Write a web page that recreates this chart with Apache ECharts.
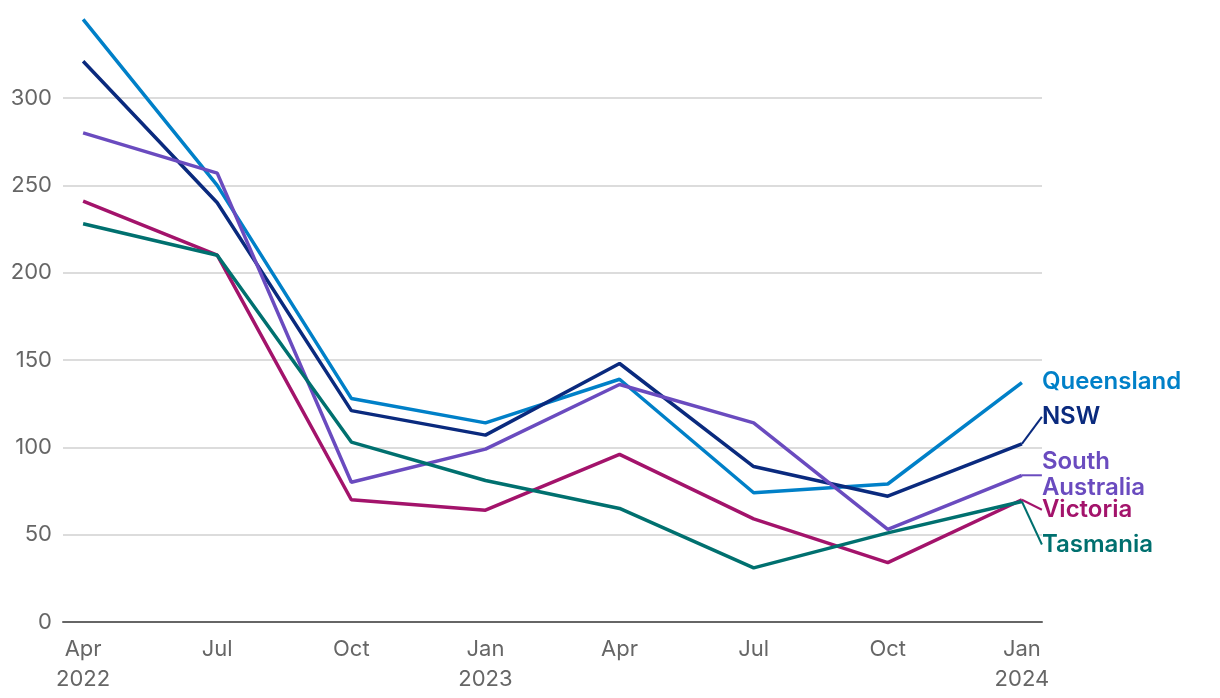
<!DOCTYPE html>
<html><head><meta charset="utf-8">
<script src="https://cdn.jsdelivr.net/npm/echarts@6/dist/echarts.min.js"></script>
<style>html,body{margin:0;padding:0;background:#fff}#c{width:1220px;height:698px}</style>
</head><body><div id="c"></div>
<script>
var categories = ['Apr\n2022','Jul','Oct','Jan\n2023','Apr','Jul','Oct','Jan\n2024'];
var queensland = [345, 250, 128, 114, 139, 74, 79, 137];
var nsw        = [321, 240, 121, 107, 148, 89, 72, 102];
var southAus   = [280, 257, 80, 99, 136, 114, 53, 84];
var victoria   = [241, 210, 70, 64, 96, 59, 34, 70];
var tasmania   = [228, 210, 103, 81, 65, 31, 51, 69];
var yTicks = [0, 50, 100, 150, 200, 250, 300];

var FONT = 'Inter, Roboto, sans-serif';
var defs = [
  {name:'Queensland', data:queensland, color:'#0080c8', label:'Queensland', dy:-1, line:false},
  {name:'NSW', data:nsw, color:'#0a2a7e', label:'NSW', dy:-27, line:true},
  {name:'South Australia', data:southAus, color:'#6a4bbf', label:'South\nAustralia', dy:0, line:true},
  {name:'Victoria', data:victoria, color:'#a3136b', label:'Victoria', dy:10, line:true},
  {name:'Tasmania', data:tasmania, color:'#00706f', label:'Tasmania', dy:43, line:true}
];
var series = defs.map(function(d){
  var pts = d.data.map(function(v,i){ return [i, v]; });
  var last = pts.length - 1;
  var data = pts.map(function(p,i){
    if (i !== last) return {value:p};
    return {value:p, label:{show:true, position:'right', distance:20, formatter:d.label,
      color:d.color, fontFamily:FONT, fontWeight:600, fontSize:24, lineHeight:26}};
  });
  return {
    type:'line', name:d.name, data:data, symbol:'circle', symbolSize:0.01, showSymbol:true, clip:false,
    lineStyle:{color:d.color, width:3.5}, itemStyle:{color:d.color},
    label:{show:false},
    labelLine:{show:d.line, lineStyle:{color:d.color, width:2}, smooth:false},
    labelLayout:{dy:d.dy},
    emphasis:{disabled:true}, animation:false
  };
});

var chart = echarts.init(document.getElementById('c'));
chart.setOption({
  backgroundColor:'#fff',
  grid:{left:63, right:178, top:98, bottom:76},
  xAxis:{type:'value', min:-0.15, max:7.15,
    axisLine:{show:true, onZero:false, lineStyle:{color:'#666', width:2}},
    axisTick:{show:false}, splitLine:{show:false},
    axisLabel:{customValues:[0,1,2,3,4,5,6,7], formatter:function(v){return categories[Math.round(v)];},
      color:'#666', fontFamily:FONT, fontSize:22, lineHeight:30, margin:12}
  },
  yAxis:{type:'value', min:0, max:300, interval:50,
    axisLine:{show:false}, axisTick:{show:false},
    splitLine:{lineStyle:{color:'#d0d0d0', width:1.5}},
    axisLabel:{color:'#666', fontFamily:FONT, fontSize:22, margin:11,
      formatter:function(v){ return yTicks.indexOf(v) >= 0 ? String(v) : ''; }}
  },
  series:series
});
</script></body></html>
